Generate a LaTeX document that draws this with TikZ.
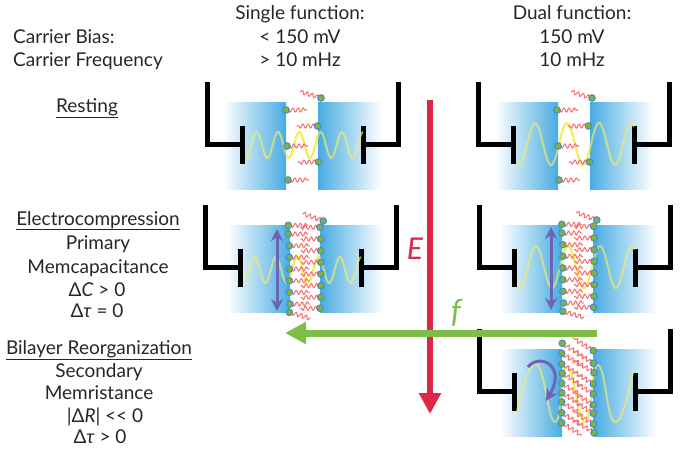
\documentclass[tikz,border=0pt]{standalone}
\usepackage{fontspec}
\setmainfont{Lato}
\usetikzlibrary{arrows.meta,decorations.pathmorphing}
\definecolor{blueA}{RGB}{72,172,226}
\definecolor{tailc}{RGB}{250,115,115}
\definecolor{headc}{RGB}{130,178,60}
\definecolor{rimc}{RGB}{70,140,205}
\definecolor{wavec}{RGB}{240,235,110}
\definecolor{waveb}{RGB}{247,236,90}
\definecolor{purp}{RGB}{108,100,182}
\definecolor{redE}{RGB}{222,38,72}
\definecolor{greenf}{RGB}{125,190,72}
\tikzset{
  frame/.style={line width=5pt,black,line join=miter},
  softwave/.style={line width=2pt,wavec,opacity=.68},
  hardwave/.style={line width=2pt,waveb},
  tail/.style={tailc,line width=1.1pt,decorate,decoration={snake,amplitude=2pt,segment length=5.2pt,post length=0.5pt}},
  headd/.style={circle,fill=headc,draw=rimc,line width=1pt,inner sep=0pt,minimum size=6.6pt},
  txt/.style={font=\fontsize{19}{21}\selectfont,text=black!85,inner sep=0pt,anchor=base,yshift=-1pt},
  txtl/.style={txt,anchor=base west},
  dbl/.style={purp,line width=3pt,{Stealth[length=12pt,width=12pt]}-{Stealth[length=12pt,width=12pt]}}
}
\newcommand{\lipid}[4]{%
  \draw[tail] (#1,#2) -- ++(#3:#4);
  \node[headd] at (#1,#2) {};}
\newcommand{\basepanel}[4]{% blue left from/to, right from/to
  \shade[left color=white,right color=blueA] (#1,20) rectangle (#2,107);
  \shade[left color=blueA,right color=white] (#3,20) rectangle (#4,107);
  \draw[frame] (0,0) -- (0,62) -- (35,62);
  \draw[frame] (35,44) -- (35,82);
  \draw[frame] (191,0) -- (191,62) -- (156,62);
  \draw[frame] (156,44) -- (156,82);}
\newcommand{\sinewave}[6]{% gap from,to, amp, peak, period, centre
  \draw[softwave] plot[domain=39:156,samples=140,smooth] (\x,{#6-#3*cos((\x-#4)/#5*360)});
  \begin{scope}
    \clip (#1,0) rectangle (#2,120);
    \draw[hardwave] plot[domain=39:156,samples=140,smooth] (\x,{#6-#3*cos((\x-#4)/#5*360)});
  \end{scope}}
\newcommand{\restlipids}{%
  \lipid{79}{28}{0}{21}\lipid{80}{64}{0}{21}\lipid{81}{98}{0}{21}
  \lipid{114}{16}{197}{22}\lipid{110.5}{44}{180}{21}\lipid{111.5}{80}{180}{21}}
\newcommand{\presslipids}{%
  \foreach \a/\b in {83.3/20.3,83.3/29,84.3/40.7,84.3/52.3,84.3/64,84.3/75.7,84.3/87.3,85/99}{\lipid{\a}{\b}{0}{20}}
  \foreach \a/\b in {115/22.3,115.7/34,115.7/45.7,115.7/57.3,115.7/69,115.7/80.7,115.7/92.3,115/103.3}{\lipid{\a}{\b}{180}{20}}
  \lipid{118.3}{16}{200}{22}\lipid{84.3}{107.3}{16}{22}}
\begin{document}
\begin{tikzpicture}[x=1pt,y=-1pt]
\useasboundingbox (0,0) rectangle (685,450);
% panel 1
\begin{scope}[shift={(207,82)}]
  \basepanel{16}{79}{111}{175}
  \sinewave{80}{111}{13}{49.7}{21.3}{63}
  \restlipids
\end{scope}
% panel 2
\begin{scope}[shift={(205,205)}]
  \basepanel{22}{85}{115}{178}
  \sinewave{85}{115}{13}{49.7}{21.3}{65}
  \presslipids
  \coordinate (pa) at (72,24); \coordinate (pb) at (72,106);
  \draw[dbl] (pa) -- (pb);
\end{scope}
% panel 3
\begin{scope}[shift={(478,82)}]
  \basepanel{17}{80}{112}{175}
  \sinewave{80}{112}{21}{57}{32}{62}
  \restlipids
\end{scope}
% panel 4
\begin{scope}[shift={(479,205)}]
  \basepanel{21}{83}{114}{178}
  \sinewave{83}{114}{21}{57}{32}{62}
  \begin{scope}[shift={(-.5,-1)}]\presslipids\end{scope}
  \coordinate (qa) at (72,22); \coordinate (qb) at (72,105);
  \draw[dbl] (qa) -- (qb);
\end{scope}
% panel 5
\begin{scope}[shift={(479,329)}]
  \basepanel{21}{83}{114}{178}
  \def\wavepts{(38,83) (57,35) (76,93) (88,38) (106,93) (119,36) (136,93) (154,43)}
  \draw[softwave] plot[smooth,tension=.85] coordinates {\wavepts};
  \begin{scope}
    \clip (83,0) rectangle (114,120);
    \draw[hardwave] plot[smooth,tension=.85] coordinates {\wavepts};
  \end{scope}
  \foreach \a/\b in {83.3/14.3,82.7/24.3,82.7/35,83.3/44.3,82.7/54.3,82.7/63.7,82.7/73,82.7/83.7,82.7/93.7}{\lipid{\a}{\b}{32}{24}}
  \foreach \a/\b in {114.3/21.7,114.3/34.3,115/43.7,114.3/55,114.3/65,114.3/76,114.3/84.3,114.3/95,115/103.7}{\lipid{\a}{\b}{212}{24}}
  \coordinate (ca) at (49,38); \coordinate (cb) at (67,72);
  \draw[purp,line width=3pt,-{Stealth[length=12pt,width=12pt]}] (ca) .. controls (60,24) and (88,36) .. (cb);
\end{scope}
% axes arrows
\coordinate (e1) at (430,100); \coordinate (e2) at (430,414);
\coordinate (f1) at (597,333); \coordinate (f2) at (285,333);
\draw[redE,line width=5.5pt,-{Stealth[length=21pt,width=21pt,inset=0pt]}] (e1) -- (e2);
\draw[greenf,line width=7pt,-{Stealth[length=21pt,width=21pt,inset=0pt]}] (f1) -- (f2);
\node[text=redE,font=\fontsize{30}{32}\selectfont\itshape,inner sep=0pt] (elabel) at (415,249) {E};
\node[text=greenf,font=\fontsize{32}{34}\selectfont\itshape,inner sep=0pt] (flabel) at (456,313) {f};
% texts
\node[txt] (t1) at (300,18) {Single function:};
\node[txt] (t2) at (300,42) {< 150 mV};
\node[txt] (t3) at (300,65) {> 10 mHz};
\node[txt] (t4) at (572,18) {Dual function:};
\node[txt] (t5) at (572,42) {150 mV};
\node[txt] (t6) at (572,65) {10 mHz};
\node[txtl] (t7) at (13,42) {Carrier Bias:};
\node[txtl] (t8) at (13,65) {Carrier Frequency};
\node[txt] (t9) at (87,111) {\underline{Resting}};
\node[txt] (t10) at (98,224) {\underline{Electrocompression}};
\node[txt] (t11) at (98,248) {Primary};
\node[txt] (t12) at (98,272) {Memcapacitance};
\node[txt] (t13) at (97,295) {Δ\textit{C} > 0};
\node[txt] (t14) at (97,316) {Δ\textit{τ} = 0};
\node[txt] (t15) at (99,353) {\underline{Bilayer Reorganization}};
\node[txt] (t16) at (99,376) {Secondary};
\node[txt] (t17) at (99,398) {Memristance};
\node[txt] (t18) at (105,421) {|Δ\textit{R}| <{}< 0};
\node[txt] (t19) at (100,442) {Δ\textit{τ} > 0};
\end{tikzpicture}
\end{document}
